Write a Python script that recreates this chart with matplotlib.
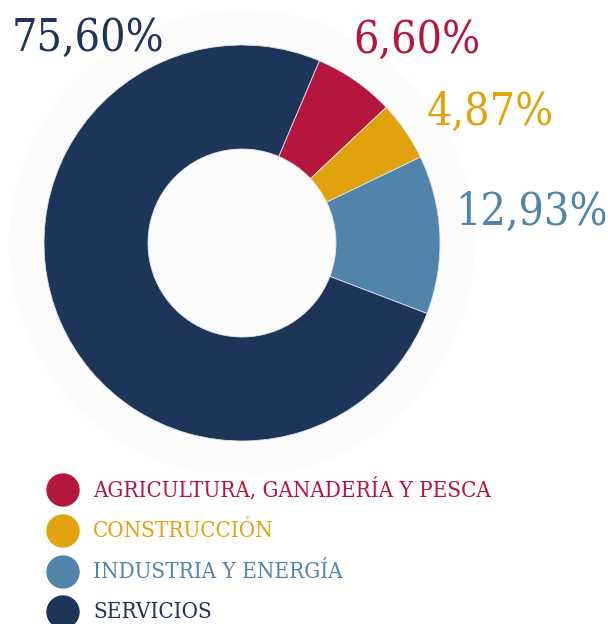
import matplotlib.pyplot as plt
import numpy as np

# sector data (clockwise from top-right)
labels = ["AGRICULTURA, GANADERÍA Y PESCA", "CONSTRUCCIÓN", "INDUSTRIA Y ENERGÍA", "SERVICIOS"]
shares = [6.60, 4.87, 12.93, 75.60]
share_text = ["6,60%", "4,87%", "12,93%", "75,60%"]
colors = ["#B5163B", "#E1A20E", "#5084AA", "#1F3459"]

W, H = 608, 624
fig = plt.figure(figsize=(W / 100, H / 100), dpi=100)
ax = fig.add_axes([0, 0, 1, 1])

cx, cy = 242, H - 243
# faint backdrop disc
ax.add_patch(plt.Circle((cx, cy), 232, color="#FCFCFC", zorder=0))

ax.pie(shares, colors=colors, startangle=67, counterclock=False,
       radius=198, center=(cx, cy),
       wedgeprops=dict(width=104, linewidth=0.6, edgecolor="#DDE3EA"))

# percentage labels
lab_pos = [(417, 40), (490, 112), (531, 212), (88, 38)]
for (x, y), t, c in zip(lab_pos, share_text, colors):
    ax.text(x, H - y, t, color=c, fontsize=32, family="DejaVu Serif",
            fontstretch="condensed", ha="center", va="center")

# legend
leg_y = [490, 531, 572, 612]
for y, lab, c in zip(leg_y, labels, colors):
    ax.add_patch(plt.Circle((63, H - y), 16, color=c))
    ax.text(93, H - y, lab, color=c, fontsize=16, family="DejaVu Serif",
            fontstretch="condensed", ha="left", va="center")

ax.set_xlim(0, W)
ax.set_ylim(0, H)
ax.set_aspect("auto")
ax.axis("off")

fig.savefig("out.png", dpi=100, facecolor="white")
